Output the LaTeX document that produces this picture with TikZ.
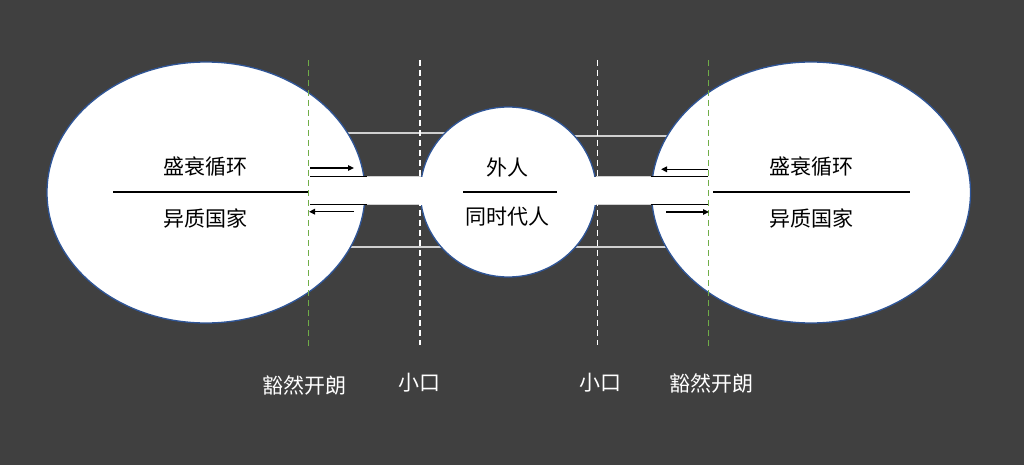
\documentclass[tikz,border=0pt]{standalone}
\usepackage{fontspec}
\setmainfont{Noto Sans CJK SC}
\usetikzlibrary{shapes.geometric,arrows.meta}
\definecolor{bg}{HTML}{404040}
\definecolor{edge}{HTML}{2F5597}
\definecolor{greyline}{HTML}{D0D0D0}
\definecolor{greendash}{HTML}{70AD47}
\tikzset{
  blob/.style={ellipse, fill=white, draw=edge, line width=1.3pt, inner sep=0pt},
  intext/.style={text=black, font=\fontsize{21}{25}\selectfont, inner sep=0pt},
  outtext/.style={text=white, font=\fontsize{21}{25}\selectfont, inner sep=0pt},
  greyrule/.style={draw=greyline, line width=1.6pt},
  blackrule/.style={draw=black, line width=1.8pt},
  greendashed/.style={draw=greendash, line width=1.6pt, dash pattern=on 6pt off 4pt},
  whitedashed/.style={draw=white, line width=1.6pt, dash pattern=on 6pt off 4pt},
  flow/.style={draw=black, line width=1.5pt, -{Triangle[length=6pt,width=5.5pt]}},
}
\begin{document}
\begin{tikzpicture}[x=1pt,y=-1pt]
\useasboundingbox (0,0) rectangle (1024,465);
\fill[bg] (0,0) rectangle (1024,465);
% outer grey guide lines (behind shapes)
\coordinate (g1a) at (320,133); \coordinate (g1b) at (460,133);
\coordinate (g2a) at (320,247); \coordinate (g2b) at (460,247);
\coordinate (g3a) at (555,136); \coordinate (g3b) at (690,136);
\coordinate (g4a) at (555,247); \coordinate (g4b) at (690,247);
\draw[greyrule] (g1a) -- (g1b);
\draw[greyrule] (g2a) -- (g2b);
\draw[greyrule] (g3a) -- (g3b);
\draw[greyrule] (g4a) -- (g4b);
% shapes
\node[blob, minimum width=318pt, minimum height=261pt] (L) at (206,192.5) {};
\node[blob, minimum width=319pt, minimum height=261pt] (R) at (811,192.5) {};
\node[blob, minimum width=176pt, minimum height=170pt] (M) at (508.3,192) {};
% channel band
\coordinate (bTL) at (310,176.5);
\coordinate (bBR) at (708,204.5);
\fill[white] (bTL) rectangle (bBR);
\coordinate (t1) at (367,176.5); \coordinate (t2) at (421,176.5);
\coordinate (t3) at (596,176.5); \coordinate (t4) at (651,176.5);
\coordinate (u1) at (367,204.5); \coordinate (u2) at (421,204.5);
\coordinate (u3) at (596,204.5); \coordinate (u4) at (651,204.5);
\draw[draw=greyline, line width=1.2pt] (t1) -- (t2);
\draw[draw=greyline, line width=1.2pt] (u1) -- (u2);
\draw[draw=greyline, line width=1.2pt] (t3) -- (t4);
\draw[draw=greyline, line width=1.2pt] (u3) -- (u4);
\coordinate (lt0) at (310,176.5); \coordinate (lb0) at (310,204.5);
\coordinate (rt0) at (708,176.5); \coordinate (rb0) at (708,204.5);
\draw[blackrule] (lt0) -- (t1);
\draw[blackrule] (lb0) -- (u1);
\draw[blackrule] (t4) -- (rt0);
\draw[blackrule] (u4) -- (rb0);
% vertical dashed lines
\coordinate (gl1) at (308.5,60); \coordinate (gl2) at (308.5,347);
\coordinate (gr1) at (708.5,60); \coordinate (gr2) at (708.5,347);
\coordinate (wl1) at (420,60); \coordinate (wl2) at (420,345);
\coordinate (wr1) at (597.5,60); \coordinate (wr2) at (597.5,345);
\draw[whitedashed] (wl1) -- (wl2);
\draw[whitedashed] (wr1) -- (wr2);
% dividers
\coordinate (dl1) at (113,192); \coordinate (dl2) at (308,192);
\coordinate (dr1) at (713,192); \coordinate (dr2) at (910,192);
\coordinate (dm1) at (463,191.7); \coordinate (dm2) at (557,191.7);
\draw[blackrule] (dl1) -- (dl2);
\draw[blackrule] (dr1) -- (dr2);
\draw[blackrule] (dm1) -- (dm2);
\draw[greendashed] (gl1) -- (gl2);
\draw[greendashed] (gr1) -- (gr2);
% arrows
\coordinate (a1s) at (310,168); \coordinate (a1e) at (354,168);
\coordinate (a2s) at (354,211.7); \coordinate (a2e) at (309,211.7);
\coordinate (a3s) at (708,169.3); \coordinate (a3e) at (661,169.3);
\coordinate (a4s) at (666,212); \coordinate (a4e) at (709,212);
\draw[flow] (a1s) -- (a1e);
\draw[flow] (a2s) -- (a2e);
\draw[flow] (a3s) -- (a3e);
\draw[flow] (a4s) -- (a4e);
% texts
\node[intext] (lt) at (205,167) {盛衰循环};
\node[intext] (lb) at (205,218) {异质国家};
\node[intext] (rt) at (811,167) {盛衰循环};
\node[intext] (rb) at (811,218) {异质国家};
\node[intext] (mt) at (507.5,167) {外人};
\node[intext] (mb) at (507.5,217) {同时代人};
\node[outtext] (o1) at (304.5,385) {豁然开朗};
\node[outtext] (o2) at (419,383) {小口};
\node[outtext] (o3) at (600,383) {小口};
\node[outtext] (o4) at (711,383) {豁然开朗};
\end{tikzpicture}
\end{document}
